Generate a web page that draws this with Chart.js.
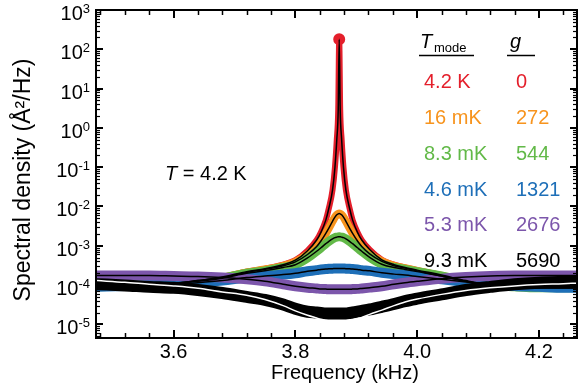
<!DOCTYPE html>
<html>
<head>
<meta charset="utf-8">
<script src="https://cdn.jsdelivr.net/npm/chart.js@4.4.1/dist/chart.umd.min.js"></script>
<style>
  html, body { margin: 0; padding: 0; background: #fff; }
  #wrap { width: 581px; height: 392px; position: relative; }
</style>
</head>
<body>
<div id="wrap"><canvas id="c" width="581" height="392"></canvas></div>
<script>
// Frequency grid (kHz), denser around the resonance at ~3.872 kHz
const freqs = [3.475, 3.52, 3.56, 3.60, 3.64, 3.68, 3.72, 3.75, 3.78, 3.80,
  3.82, 3.835, 3.842, 3.85, 3.855, 3.861, 3.865, 3.868, 3.8704, 3.872,
  3.8736, 3.876, 3.879, 3.883, 3.889, 3.894, 3.902, 3.909, 3.922, 3.942,
  3.962, 3.98, 4.00, 4.04, 4.08, 4.12, 4.16, 4.20, 4.24, 4.262];

// Spectral density (Å²/Hz) per feedback gain
const sG0 = [9e-5, 9.5e-5, 1.0e-4, 1.1e-4, 1.3e-4, 1.6e-4, 2.2e-4, 2.6e-4, 3.3e-4, 4.3e-4,
  7.5e-4, 1.4e-3, 2.2e-3, 4.5e-3, 9e-3, 2.6e-2, 0.1, 0.5, 3, 180,
  3, 0.5, 0.1, 0.026, 9e-3, 4.5e-3, 2.2e-3, 1.4e-3, 8e-4, 4.4e-4,
  3.3e-4, 2.8e-4, 2.4e-4, 1.8e-4, 1.3e-4, 1.0e-4, 9e-5, 8.5e-5, 8.5e-5, 8.5e-5];
const sG272 = [9e-5, 9.5e-5, 1.0e-4, 1.1e-4, 1.3e-4, 1.55e-4, 2.1e-4, 2.5e-4, 3.1e-4, 3.9e-4,
  6e-4, 9.6e-4, 1.32e-3, 2.06e-3, 2.83e-3, 4.2e-3, 5.36e-3, 6.13e-3, 6.5e-3, 6.6e-3,
  6.5e-3, 6.13e-3, 5.36e-3, 4.2e-3, 2.83e-3, 2.06e-3, 1.32e-3, 9.6e-4, 6.2e-4, 4e-4,
  3.1e-4, 2.7e-4, 2.3e-4, 1.7e-4, 1.25e-4, 1e-4, 9e-5, 8.5e-5, 8.5e-5, 8.5e-5];
const sG544 = [9e-5, 9.5e-5, 1e-4, 1.1e-4, 1.25e-4, 1.5e-4, 2.0e-4, 2.3e-4, 2.8e-4, 3.3e-4,
  4.9e-4, 7.25e-4, 8.9e-4, 1.13e-3, 1.3e-3, 1.5e-3, 1.61e-3, 1.66e-3, 1.69e-3, 1.7e-3,
  1.69e-3, 1.66e-3, 1.61e-3, 1.5e-3, 1.3e-3, 1.13e-3, 8.9e-4, 7.25e-4, 5.1e-4, 3.4e-4,
  2.8e-4, 2.5e-4, 2.2e-4, 1.7e-4, 1.25e-4, 1e-4, 9e-5, 8.5e-5, 8.5e-5, 8.5e-5];
const sG1321 = [9e-5, 9.5e-5, 1e-4, 1.05e-4, 1.15e-4, 1.3e-4, 1.55e-4, 1.7e-4, 1.85e-4, 2.0e-4,
  2.25e-4, 2.4e-4, 2.5e-4, 2.55e-4, 2.6e-4, 2.62e-4, 2.64e-4, 2.65e-4, 2.65e-4, 2.65e-4,
  2.65e-4, 2.65e-4, 2.64e-4, 2.62e-4, 2.6e-4, 2.55e-4, 2.5e-4, 2.4e-4, 2.3e-4, 2.05e-4,
  1.9e-4, 1.8e-4, 1.65e-4, 1.4e-4, 1.2e-4, 1.05e-4, 9.5e-5, 9e-5, 8.5e-5, 8.5e-5];
const sG2676 = [1.75e-4, 1.75e-4, 1.75e-4, 1.7e-4, 1.65e-4, 1.55e-4, 1.4e-4, 1.25e-4, 1.05e-4, 9.3e-5,
  8.6e-5, 8.2e-5, 8.0e-5, 7.9e-5, 7.8e-5, 7.8e-5, 7.8e-5, 7.8e-5, 7.8e-5, 7.8e-5,
  7.8e-5, 7.8e-5, 7.8e-5, 7.8e-5, 7.8e-5, 7.9e-5, 8.0e-5, 8.2e-5, 8.6e-5, 9.3e-5,
  1.05e-4, 1.15e-4, 1.25e-4, 1.45e-4, 1.6e-4, 1.7e-4, 1.75e-4, 1.75e-4, 1.75e-4, 1.75e-4];
const sG5690 = [1.05e-4, 9.8e-5, 9e-5, 8.5e-5, 7.5e-5, 6.3e-5, 5e-5, 4.2e-5, 3.2e-5, 2.5e-5,
  2.1e-5, 2e-5, 1.95e-5, 1.9e-5, 1.9e-5, 1.9e-5, 1.9e-5, 1.9e-5, 1.9e-5, 1.9e-5,
  1.9e-5, 1.9e-5, 1.9e-5, 1.9e-5, 1.95e-5, 2e-5, 2.1e-5, 2.2e-5, 2.4e-5, 2.8e-5,
  3.3e-5, 3.9e-5, 4.5e-5, 5.8e-5, 7.5e-5, 9e-5, 1.05e-4, 1.15e-4, 1.2e-4, 1.22e-4];
// fit curve for the highest gain (drawn white)
const fitG5690 = [1.3e-4, 1.18e-4, 1.05e-4, 9.5e-5, 8.3e-5, 6.7e-5, 5.5e-5, 4.3e-5, 3e-5, 2.2e-5,
  1.7e-5, 1.45e-5, 1.35e-5, 1.27e-5, 1.22e-5, 1.19e-5, 1.17e-5, 1.17e-5, 1.17e-5, 1.17e-5,
  1.17e-5, 1.17e-5, 1.17e-5, 1.19e-5, 1.22e-5, 1.3e-5, 1.4e-5, 1.5e-5, 1.8e-5, 2.3e-5,
  3e-5, 3.7e-5, 4.4e-5, 5.8e-5, 7.3e-5, 8.5e-5, 9.5e-5, 1.03e-4, 1.08e-4, 1.12e-4];

const tModes = ['4.2 K', '16 mK', '8.3 mK', '4.6 mK', '5.3 mK', '9.3 mK'];
const gains = ['0', '272', '544', '1321', '2676', '5690'];

const xMajor = [3.6, 3.8, 4.0, 4.2];
const xMinor = [3.48, 3.52, 3.56, 3.64, 3.68, 3.72, 3.76, 3.84, 3.88, 3.92, 3.96, 4.04, 4.08, 4.12, 4.16, 4.24];
const yExp = [-5, -4, -3, -2, -1, 0, 1, 2, 3];

const X_MIN = 3.4727, X_MAX = 4.2624;
const Y_MIN = 4.5e-6, Y_MAX = 1000;

const COLORS = ['#e41f2b', '#f7941e', '#62b948', '#1e6fb8', '#7c56ab', '#000000'];
const BAND_W = [6, 8, 9, 10, 10, 12];
const FONT = '"Liberation Sans", Arial, sans-serif';

const series = [sG0, sG272, sG544, sG1321, sG2676, sG5690];
const toPts = arr => freqs.map((f, i) => ({ x: f, y: arr[i] }));

const lineCommon = {
  showLine: true,
  tension: 0.3,
  cubicInterpolationMode: 'monotone',
  borderJoinStyle: 'round',
  borderCapStyle: 'round',
  clip: 0,
};

const datasets = [];
// measured data: thick bands, red first (bottom), black last
series.forEach((s, i) => {
  datasets.push(Object.assign({}, lineCommon, {
    data: toPts(s),
    borderColor: COLORS[i],
    backgroundColor: COLORS[i],
    borderWidth: BAND_W[i],
    pointRadius: i === 0 ? (c => (c.raw && c.raw.y > 10 ? 3 : 0)) : 0,
    order: 20 - i,
  }));
});
// fits: thin black lines, white for the last one
series.forEach((s, i) => {
  datasets.push(Object.assign({}, lineCommon, {
    data: toPts(i === 5 ? fitG5690 : s),
    borderColor: i === 5 ? '#ffffff' : '#000000',
    borderWidth: 1.5,
    pointRadius: 0,
    order: 5 - i,
  }));
});

function supLabel(ctx, exp, right, yPix) {
  const e = String(exp);
  ctx.font = '13px ' + FONT;
  const ew = ctx.measureText(e).width;
  ctx.textAlign = 'left';
  ctx.textBaseline = 'alphabetic';
  ctx.fillText(e, right - ew, yPix + 3);
  ctx.font = '20px ' + FONT;
  const bw = ctx.measureText('10').width;
  ctx.fillText('10', right - ew - bw, yPix + 10);
}

const framePlugin = {
  id: 'frame',
  afterDraw(chart) {
    const { ctx, chartArea: a, scales: { x, y } } = chart;
    ctx.save();
    ctx.strokeStyle = '#000';
    ctx.fillStyle = '#000';
    ctx.lineCap = 'butt';
    const seg = (x1, y1, x2, y2) => { ctx.beginPath(); ctx.moveTo(x1, y1); ctx.lineTo(x2, y2); ctx.stroke(); };

    // x ticks, inward on bottom and top
    ctx.lineWidth = 2;
    xMajor.forEach(v => {
      const px = Math.round(x.getPixelForValue(v));
      seg(px, a.bottom, px, a.bottom - 8);
      seg(px, a.top, px, a.top + 8);
    });
    ctx.lineWidth = 1.5;
    xMinor.forEach(v => {
      const px = Math.round(x.getPixelForValue(v)) + 0.5;
      seg(px, a.bottom, px, a.bottom - 5);
      seg(px, a.top, px, a.top + 5);
    });

    // y ticks, inward on left and right
    ctx.lineWidth = 2;
    yExp.forEach(e => {
      const py = Math.round(y.getPixelForValue(Math.pow(10, e)));
      seg(a.left, py, a.left + 7, py);
      seg(a.right, py, a.right - 7, py);
    });
    ctx.lineWidth = 1.2;
    for (let e = -6; e <= 2; e++) {
      for (let m = 2; m <= 9; m++) {
        const v = m * Math.pow(10, e);
        if (v < Y_MIN || v > Y_MAX) continue;
        const py = Math.round(y.getPixelForValue(v)) + 0.5;
        seg(a.left, py, a.left + 4, py);
        seg(a.right, py, a.right - 4, py);
      }
    }

    // frame
    ctx.lineWidth = 2;
    ctx.strokeRect(a.left, a.top, a.right - a.left, a.bottom - a.top);

    // tick labels
    ctx.font = '20px ' + FONT;
    ctx.textAlign = 'center';
    ctx.textBaseline = 'alphabetic';
    xMajor.forEach(v => ctx.fillText(v.toFixed(1), x.getPixelForValue(v), 358));
    yExp.forEach(e => supLabel(ctx, e, 90, y.getPixelForValue(Math.pow(10, e))));

    // axis titles
    ctx.font = '20px ' + FONT;
    ctx.textAlign = 'center';
    ctx.fillText('Frequency (kHz)', 345, 379);
    ctx.save();
    ctx.translate(30, 180);
    ctx.rotate(-Math.PI / 2);
    ctx.font = '23px ' + FONT;
    ctx.fillText('Spectral density (Å²/Hz)', 0, 0);
    ctx.restore();

    // annotation
    ctx.textAlign = 'left';
    ctx.font = 'italic 20px ' + FONT;
    ctx.fillText('T', 165, 180);
    const tw = ctx.measureText('T').width;
    ctx.font = '20px ' + FONT;
    ctx.fillText(' = 4.2 K', 165 + tw, 180);

    // legend table header
    ctx.font = 'italic 20px ' + FONT;
    ctx.fillText('T', 420, 48);
    ctx.font = '13px ' + FONT;
    ctx.fillText('mode', 434, 52);
    ctx.font = 'italic 20px ' + FONT;
    ctx.fillText('g', 510, 48);
    ctx.lineWidth = 1.5;
    seg(419, 55.5, 474, 55.5);
    seg(507, 55.5, 535, 55.5);

    // legend rows
    ctx.font = '20px ' + FONT;
    tModes.forEach((t, i) => {
      const by = 88.4 + i * 35.7;
      ctx.fillStyle = COLORS[i];
      ctx.fillText(t, 424, by);
      ctx.fillText(gains[i], 516, by);
    });
    ctx.restore();
  }
};

new Chart(document.getElementById('c'), {
  type: 'scatter',
  data: { datasets },
  options: {
    responsive: false,
    animation: false,
    events: [],
    layout: { padding: { top: 10, right: 4, left: 0, bottom: 0 } },
    plugins: { legend: { display: false }, tooltip: { enabled: false } },
    scales: {
      x: {
        type: 'linear', min: X_MIN, max: X_MAX,
        ticks: { display: false }, grid: { display: false }, border: { display: false },
        afterFit: s => { s.height = 54; },
      },
      y: {
        type: 'logarithmic', min: Y_MIN, max: Y_MAX,
        ticks: { display: false }, grid: { display: false }, border: { display: false },
        afterFit: s => { s.width = 96; },
      },
    },
  },
  plugins: [framePlugin],
});
</script>
</body>
</html>
